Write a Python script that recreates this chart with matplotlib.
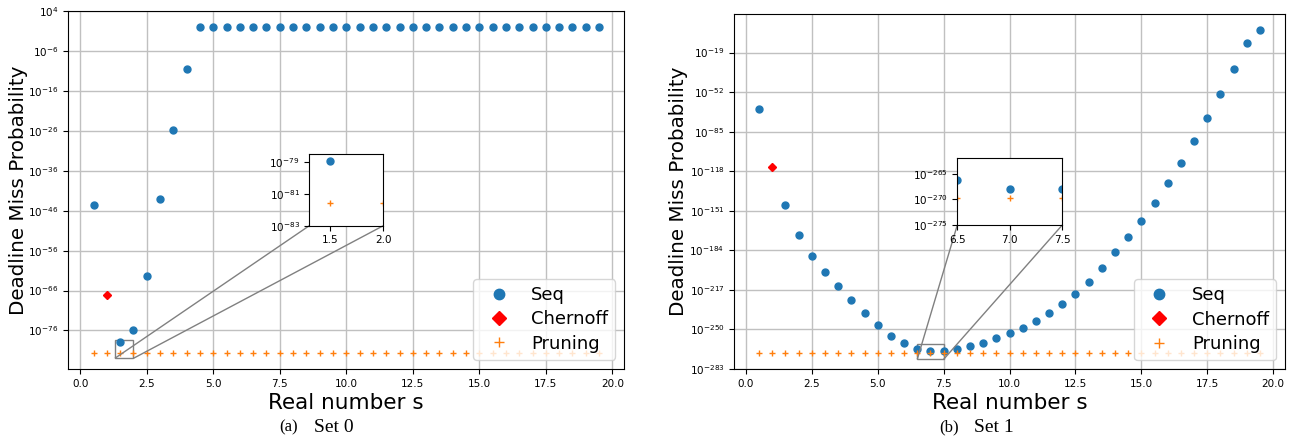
import numpy as np
import matplotlib
matplotlib.use("Agg")
from matplotlib import pyplot as plt
from mpl_toolkits.axes_grid1.inset_locator import mark_inset
from matplotlib.ticker import NullLocator

# s values where Seq is available (no Seq point at s = 1.0)
s_seq = [0.5, 1.5, 2.0, 2.5, 3.0, 3.5, 4.0, 4.5, 5.0, 5.5, 6.0, 6.5, 7.0, 7.5,
         8.0, 8.5, 9.0, 9.5, 10.0, 10.5, 11.0, 11.5, 12.0, 12.5, 13.0, 13.5,
         14.0, 14.5, 15.0, 15.5, 16.0, 16.5, 17.0, 17.5, 18.0, 18.5, 19.0, 19.5]
s_prun = [0.5, 1.0, 1.5, 2.0, 2.5, 3.0, 3.5, 4.0, 4.5, 5.0, 5.5, 6.0, 6.5, 7.0,
          7.5, 8.0, 8.5, 9.0, 9.5, 10.0, 10.5, 11.0, 11.5, 12.0, 12.5, 13.0,
          13.5, 14.0, 14.5, 15.0, 15.5, 16.0, 16.5, 17.0, 17.5, 18.0, 18.5,
          19.0, 19.5]
s_chern = [1.0]

# log10 of the probabilities
seq0_exp = [-44.6, -78.9, -76.0, -62.4, -43.0, -25.7, -10.5, 0, 0, 0, 0, 0, 0,
            0, 0, 0, 0, 0, 0, 0, 0, 0, 0, 0, 0, 0, 0, 0, 0, 0, 0, 0, 0, 0, 0,
            0, 0, 0]
chern0_exp = [-67.1]
prun0_exp = [-81.6, -81.6, -81.6, -81.6, -81.6, -81.6, -81.6, -81.6, -81.6,
             -81.6, -81.6, -81.6, -81.6, -81.6, -81.6, -81.6, -81.6, -81.6,
             -81.6, -81.6, -81.6, -81.6, -81.6, -81.6, -81.6, -81.6, -81.6,
             -81.6, -81.6, -81.6, -81.6, -81.6, -81.6, -81.6, -81.6, -81.6,
             -81.6, -81.6, -81.6]

seq1_exp = [-66.5, -146.3, -171.3, -188.8, -202.1, -214.1, -225.5, -236.3,
            -246.6, -255.2, -261.7, -266.2, -267.9, -267.9, -266.3, -264.2,
            -261.1, -257.5, -253.3, -248.6, -243.3, -236.6, -229.1, -220.5,
            -210.2, -198.5, -185.5, -172.7, -159.3, -144.6, -128.2, -111.0,
            -92.6, -73.2, -53.2, -32.6, -11.2, -0.3]
chern1_exp = [-114.1]
prun1_exp = [-269.8, -269.8, -269.8, -269.8, -269.8, -269.8, -269.8, -269.8,
             -269.8, -269.8, -269.8, -269.8, -269.8, -269.8, -269.8, -269.8,
             -269.8, -269.8, -269.8, -269.8, -269.8, -269.8, -269.8, -269.8,
             -269.8, -269.8, -269.8, -269.8, -269.8, -269.8, -269.8, -269.8,
             -269.8, -269.8, -269.8, -269.8, -269.8, -269.8, -269.8]

yticks0 = [-76, -66, -56, -46, -36, -26, -16, -6, 4]
yticks1 = [-283, -250, -217, -184, -151, -118, -85, -52, -19]
ins0_xlim, ins0_ylim, ins0_xt, ins0_yt = (1.3, 2.0), (-83, -78.5), [1.5, 2.0], [-83, -81, -79]
ins1_xlim, ins1_ylim, ins1_xt, ins1_yt = (6.5, 7.5), (-275, -262), [6.5, 7.0, 7.5], [-275, -270, -265]
cap_tags = ["(a)", "(b)"]
cap_texts = ["Set 0", "Set 1"]

W, H = 1292, 442
fig = plt.figure(figsize=(W / 100, H / 100), dpi=100)


def px(x0, x1, y0, y1):
    return [x0 / W, 1 - y1 / H, (x1 - x0) / W, (y1 - y0) / H]


def draw(ax, seq, chern, prun, ms=5):
    ax.plot(s_seq, 10.0 ** np.array(seq), 'o', color='#1f77b4', ms=ms, label='Seq')
    ax.plot(s_chern, 10.0 ** np.array(chern), 'D', color='red', ms=ms * 0.9, label='Chernoff')
    ax.plot(s_prun, 10.0 ** np.array(prun), '+', color='#ff7f0e', ms=ms, label='Pruning')
    ax.set_yscale('log')


panels = [
    (px(68.3, 624.3, 11, 369), px(309.3, 383.3, 154.3, 225.7),
     seq0_exp, chern0_exp, prun0_exp, yticks0, ins0_xlim, ins0_ylim, ins0_xt, ins0_yt, 279, 28.5),
    (px(734, 1285, 14, 369.3), px(957.3, 1062.3, 158.3, 225),
     seq1_exp, chern1_exp, prun1_exp, yticks1, ins1_xlim, ins1_ylim, ins1_xt, ins1_yt, 939, 688.5),
]

for i, (rect, irect, seq, chern, prun, yt, ixl, iyl, ixt, iyt, cx, ylx) in enumerate(panels):
    ax = fig.add_axes(rect)
    draw(ax, seq, chern, prun)
    ax.set_yticks([10.0 ** e for e in yt])
    ax.yaxis.set_minor_locator(NullLocator())
    ax.set_xticks([0.0, 2.5, 5.0, 7.5, 10.0, 12.5, 15.0, 17.5, 20.0])
    ax.tick_params(labelsize=7.5)
    ax.grid(True, color='#c0c0c0', linewidth=1.0)
    ax.set_axisbelow(True)
    ax.set_xlabel('Real number s', fontsize=15.5, labelpad=3)
    ax.set_ylabel('Deadline Miss Probability', fontsize=14.3)
    ax.yaxis.set_label_coords((ylx - W * rect[0]) / (W * rect[2]), 0.5)
    ax.legend(loc='lower right', fontsize=13, markerscale=1.5, labelspacing=0.35)

    axins = fig.add_axes(irect)
    draw(axins, seq, chern, prun)
    axins.set_xlim(*ixl)
    axins.set_ylim(10.0 ** iyl[0], 10.0 ** iyl[1])
    axins.set_xticks(ixt)
    axins.set_yticks([10.0 ** e for e in iyt])
    axins.yaxis.set_minor_locator(NullLocator())
    axins.tick_params(labelsize=7.5)
    mark_inset(ax, axins, loc1=3, loc2=4, fc='none', ec='0.5')

    fig.text(cx / W, 1 - 427 / H, cap_tags[i], ha='left', va='center',
             fontsize=12, family='Liberation Serif')
    fig.text((cx + 35) / W, 1 - 427 / H, cap_texts[i], ha='left', va='center',
             fontsize=14, family='Liberation Serif')

fig.savefig('out.png', dpi=100)
